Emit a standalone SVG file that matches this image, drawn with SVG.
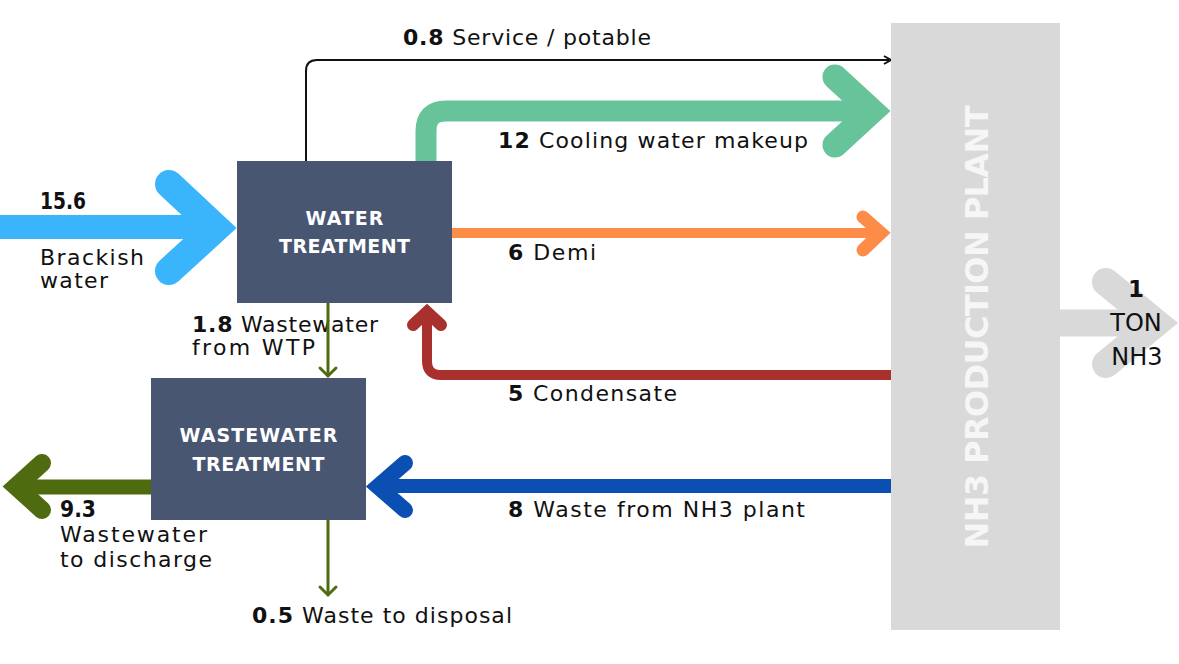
<svg xmlns="http://www.w3.org/2000/svg" width="1179" height="664" viewBox="0 0 1179 664">
<style>
.lbl{font-family:"DejaVu Sans","Liberation Sans",sans-serif;font-size:22px;fill:#111;}
.b{font-weight:bold;}
.box{fill:#485672;}
.boxt{font-family:"DejaVu Sans","Liberation Sans",sans-serif;font-size:19px;font-weight:bold;fill:#ffffff;text-anchor:middle;}
.flow{fill:none;stroke-linejoin:miter;stroke-linecap:butt;}
.head{fill:none;stroke-linejoin:miter;stroke-miterlimit:10;stroke-linecap:round;}
</style>
<rect width="1179" height="664" fill="#ffffff"/>
<g id="connectors">
  <path class="flow" d="M0 227 H220" stroke="#3ab5fc" stroke-width="24"/>
  <polyline class="head" points="169,184 216,228 169,271" stroke="#3ab5fc" stroke-width="28"/>
  <path class="flow" d="M306 161 V71 Q306 60 317 60 H889" stroke="#111" stroke-width="2"/>
  <polyline points="884,56 891,60 884,64" fill="none" stroke="#111" stroke-width="2"/>
  <path class="flow" d="M426 161 V131 Q426 111 446 111 H872" stroke="#66c39a" stroke-width="21"/>
  <polyline class="head" points="835,77 872,111 835,145" stroke="#66c39a" stroke-width="25"/>
  <path class="flow" d="M452 233 H881" stroke="#fd8c48" stroke-width="10"/>
  <polyline class="head" points="863,217 881,233 863,250" stroke="#fd8c48" stroke-width="13"/>
  <path class="flow" d="M891 375 H441 Q427 375 427 361 V312" stroke="#a8302d" stroke-width="10"/>
  <polyline class="head" points="413,325 427,312 441,325" stroke="#a8302d" stroke-width="12"/>
  <path class="flow" d="M891 486 H380" stroke="#0b4fb3" stroke-width="14"/>
  <polyline class="head" points="405,463 378,486.5 405,510" stroke="#0b4fb3" stroke-width="16"/>
  <path class="flow" d="M151 487 H18" stroke="#4f6b10" stroke-width="15"/>
  <polyline class="head" points="42,463 16,486.5 42,510" stroke="#4f6b10" stroke-width="18"/>
  <path class="flow" d="M1060 323 H1156" stroke="#d9d9d9" stroke-width="27"/>
  <polyline class="head" points="1106,282 1156,323 1106,364" stroke="#d9d9d9" stroke-width="28"/>
</g>
<g id="labels">
  <text class="lbl" x="403" y="45" textLength="248" lengthAdjust="spacing"><tspan class="b">0.8</tspan> Service / potable</text>
  <text class="lbl" x="498" y="148" textLength="310" lengthAdjust="spacing"><tspan class="b">12</tspan> Cooling water makeup</text>
  <text class="lbl b" x="40" y="209" textLength="46" lengthAdjust="spacingAndGlyphs" style="font-size:23px">15.6</text>
  <text class="lbl" x="40" y="265" textLength="104" lengthAdjust="spacing">Brackish</text>
  <text class="lbl" x="40" y="288" textLength="68" lengthAdjust="spacing">water</text>
  <text class="lbl" x="508" y="260" textLength="88" lengthAdjust="spacing"><tspan class="b">6</tspan> Demi</text>
  <text class="lbl" x="192" y="332" textLength="186" lengthAdjust="spacing"><tspan class="b">1.8</tspan> Wastewater</text>
  <text class="lbl" x="192" y="355" textLength="123" lengthAdjust="spacing">from WTP</text>
  <text class="lbl" x="508" y="401" textLength="169" lengthAdjust="spacing"><tspan class="b">5</tspan> Condensate</text>
  <text class="lbl" x="508" y="517" textLength="297" lengthAdjust="spacing"><tspan class="b">8</tspan> Waste from NH3 plant</text>
  <text class="lbl b" x="60" y="517" textLength="36" lengthAdjust="spacingAndGlyphs" style="font-size:23px">9.3</text>
  <text class="lbl" x="60" y="542" textLength="147" lengthAdjust="spacing">Wastewater</text>
  <text class="lbl" x="60" y="567" textLength="152" lengthAdjust="spacing">to discharge</text>
  <text class="lbl" x="252" y="623" textLength="260" lengthAdjust="spacing"><tspan class="b">0.5</tspan> Waste to disposal</text>
  <text class="lbl b" x="1136" y="297" text-anchor="middle" style="font-size:23px">1</text>
  <text class="lbl" x="1136" y="331" text-anchor="middle" style="font-size:24px">TON</text>
  <text class="lbl" x="1137" y="365" text-anchor="middle" style="font-size:24px">NH3</text>
</g>
<g id="thin-connectors">
  <path d="M328 303 V376" fill="none" stroke="#4f6b10" stroke-width="3"/>
  <polyline points="320,368 328,376 336,368" fill="none" stroke="#4f6b10" stroke-width="3" stroke-linecap="round"/>
  <path d="M328 520 V595" fill="none" stroke="#4f6b10" stroke-width="3"/>
  <polyline points="320,587 328,595 336,587" fill="none" stroke="#4f6b10" stroke-width="3" stroke-linecap="round"/>
</g>
<g id="water-treatment">
  <rect class="box" x="237" y="161" width="215" height="142"/>
  <text class="boxt" x="344.5" y="225" textLength="78" lengthAdjust="spacing">WATER</text>
  <text class="boxt" x="344.5" y="253" textLength="131" lengthAdjust="spacing">TREATMENT</text>
</g>
<g id="wastewater-treatment">
  <rect class="box" x="151" y="378" width="215" height="142"/>
  <text class="boxt" x="258.5" y="442" textLength="158" lengthAdjust="spacing">WASTEWATER</text>
  <text class="boxt" x="258.5" y="471" textLength="132" lengthAdjust="spacing">TREATMENT</text>
</g>
<g id="nh3-plant">
  <rect x="891" y="23" width="169" height="607" fill="#d9d9d9"/>
  <text transform="translate(988,327) rotate(-90)" x="0" y="0" text-anchor="middle" font-family="DejaVu Sans, Liberation Sans, sans-serif" font-size="32" font-weight="bold" fill="#f6f6f6" textLength="443" lengthAdjust="spacing">NH3 PRODUCTION PLANT</text>
</g>
</svg>
